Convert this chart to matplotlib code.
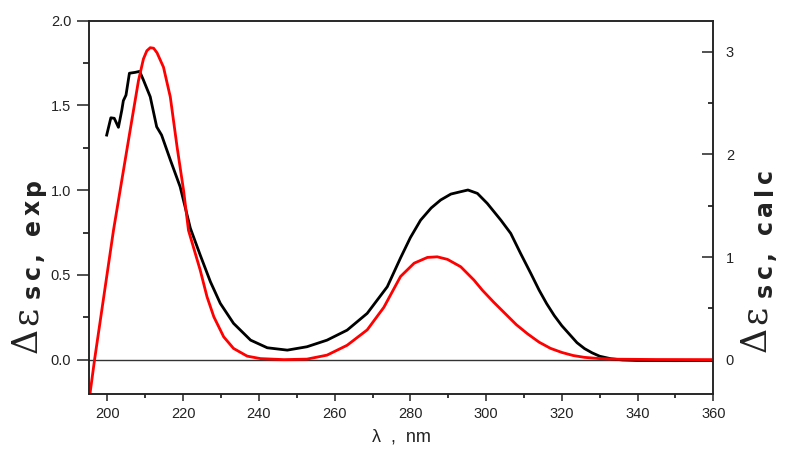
import matplotlib
matplotlib.use('Agg')
import matplotlib.pyplot as plt
from matplotlib.ticker import MultipleLocator, FormatStrFormatter

plt.rcParams['font.family'] = 'Liberation Sans'

# Espectro experimental (eixo esquerdo)
exp_x = [199.8, 200.9, 201.8, 202.9, 203.8, 204.2, 204.9, 205.8, 207.3, 208.5,
         209.5, 211.3, 213.0, 214.3, 216.6, 219.2, 221.9, 224.5, 227.2, 229.8,
         233.3, 237.8, 242.2, 247.5, 252.7, 258.0, 263.3, 268.6, 273.9, 277.4,
         280.0, 282.7, 285.5, 288.0, 290.7, 293.3, 295.2, 297.7, 300.3, 303.9,
         306.5, 309.1, 311.8, 314.0, 316, 318, 320, 322, 324, 326,
         328, 330, 333, 336, 340, 350, 360]
exp_y = [1.325, 1.427, 1.424, 1.371, 1.473, 1.528, 1.561, 1.690, 1.695, 1.701,
         1.650, 1.551, 1.374, 1.325, 1.179, 1.020, 0.775, 0.617, 0.459, 0.332,
         0.214, 0.115, 0.070, 0.056, 0.076, 0.115, 0.174, 0.273, 0.43, 0.60,
         0.72, 0.823, 0.895, 0.942, 0.977, 0.991, 1.001, 0.981, 0.922, 0.823,
         0.745, 0.627, 0.509, 0.410, 0.33, 0.26, 0.20, 0.15, 0.10, 0.065,
         0.04, 0.02, 0.005, -0.002, -0.005, -0.006, -0.005]

# Espectro calculado (eixo direito)
calc_x = [195.4, 196.6, 201.6, 203.8, 206.0, 208.2, 209.5, 210.4, 211.3, 212.2,
          213.1, 214.8, 216.6, 218.4, 220.1, 221.4, 224.5, 226.3, 228.1, 230.7,
          233.3, 236.9, 240.4, 246.6, 252.7, 258.0, 263.3, 268.6, 273.0, 277.4,
          281.0, 284.5, 287.1, 289.8, 293.3, 296.8, 299.0, 302, 305, 308,
          311, 314, 317, 320, 323, 326, 330, 335, 345, 360]
calc_y = [-0.33, 0.0, 1.262, 1.75, 2.237, 2.72, 2.93, 3.01, 3.04, 3.035,
          2.99, 2.85, 2.56, 2.07, 1.65, 1.26, 0.872, 0.612, 0.417, 0.222,
          0.109, 0.034, 0.01, 0.0, 0.005, 0.044, 0.14, 0.29, 0.51, 0.81,
          0.94, 0.996, 1.002, 0.977, 0.905, 0.775, 0.677, 0.56, 0.45, 0.34,
          0.25, 0.17, 0.11, 0.07, 0.04, 0.022, 0.01, 0.004, 0.001, 0.0]

W, H = 790, 458

fig = plt.figure(figsize=(7.9, 4.58), dpi=100)
ax = fig.add_axes([0.1130, 0.1408, 0.7899, 0.8140])
ax2 = ax.twinx()

ax.axhline(0, color='#333333', lw=1.0, zorder=1)
ax.plot(exp_x, exp_y, color='black', lw=2.0, solid_joinstyle='round')
ax2.plot(calc_x, calc_y, color='#ff0000', lw=2.0, solid_joinstyle='round')

ax.set_xlim(195.2, 360)
ax.set_ylim(-0.2, 2.0)
ax2.set_ylim(-0.2 / 0.6055, 2.0 / 0.6055)

# Ticks
ax.xaxis.set_major_locator(MultipleLocator(20))
ax.xaxis.set_minor_locator(MultipleLocator(10))
ax.yaxis.set_major_locator(MultipleLocator(0.5))
ax.yaxis.set_minor_locator(MultipleLocator(0.25))
ax.yaxis.set_major_formatter(FormatStrFormatter('%.1f'))
ax2.yaxis.set_major_locator(MultipleLocator(1))
ax2.yaxis.set_minor_locator(MultipleLocator(0.5))

ax.tick_params(axis='x', which='major', direction='out', length=5, width=1.1,
               labelsize=10.5, pad=5, colors='#222222')
ax.tick_params(axis='x', which='minor', direction='out', length=3, width=1.1)
ax.tick_params(axis='y', which='major', direction='out', length=9, width=1.1,
               labelsize=10.5, pad=4, colors='#222222')
ax.tick_params(axis='y', which='minor', direction='out', length=4.5, width=1.1)
ax2.tick_params(axis='y', which='major', direction='in', length=8, width=1.1,
                labelsize=10.5, pad=9, colors='#222222')
ax2.tick_params(axis='y', which='minor', direction='in', length=3.5, width=1.1)

for a in (ax, ax2):
    for s in a.spines.values():
        s.set_linewidth(1.1)
        s.set_color('#222222')

renderer = fig.canvas.get_renderer()


# Texto vertical com espaçamento entre letras (em pixels)
def spaced_text(x_px, y_px, s, track, **kw):
    y = y_px
    for ch in s:
        t = fig.text(x_px / W, 1 - y / H, ch, rotation=90,
                     rotation_mode='anchor', ha='left', va='baseline',
                     color='#222222', **kw)
        if ch == ' ':
            y -= kw['fontsize'] * 1.389 * 0.33 + track
        else:
            y -= t.get_window_extent(renderer).height + track


# Rótulos dos eixos y: Δε grande + índice em negrito
spaced_text(37, 353, 'Δε', 3, fontsize=25, family='DejaVu Serif')
spaced_text(40, 298, 'sc, exp', 4.5, fontsize=17, family='DejaVu Sans',
            weight='bold')
spaced_text(766, 352, 'Δε', 3, fontsize=25, family='DejaVu Serif')
spaced_text(772, 297, 'sc, calc', 4.5, fontsize=17, family='DejaVu Sans',
            weight='bold')

fig.text(0.508, 0.046, 'λ  ,  nm', ha='center', va='center', fontsize=13,
         color='#222222')

plt.savefig('out.png', dpi=100)
